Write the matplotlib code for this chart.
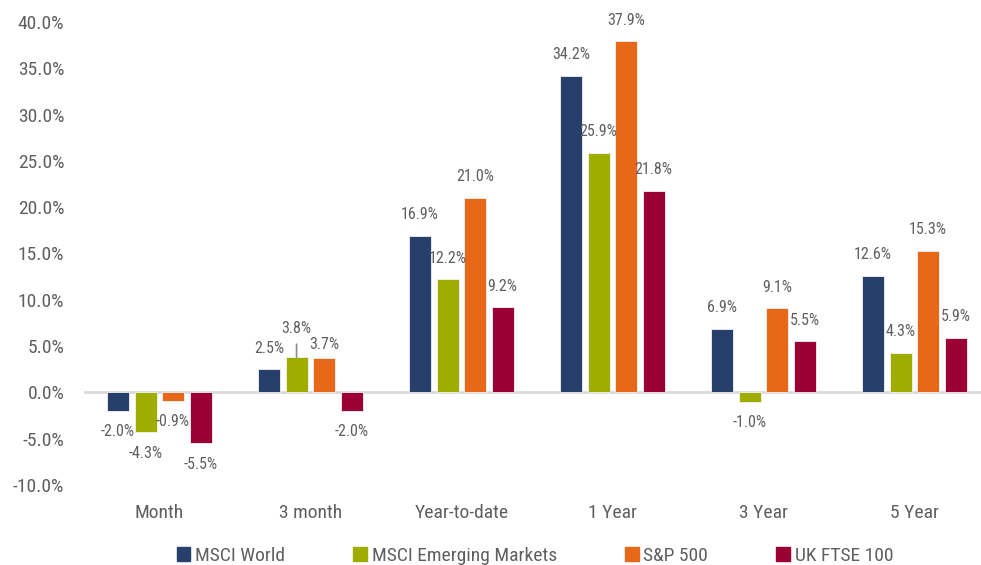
import numpy as np
import matplotlib.pyplot as plt
from matplotlib.patches import Patch

plt.rcParams['font.family'] = ['Liberation Sans Narrow', 'DejaVu Sans Condensed',
                               'Roboto Condensed', 'DejaVu Sans']
plt.rcParams['font.stretch'] = 'condensed'

# data
periods = ['Month', '3 month', 'Year-to-date', '1 Year', '3 Year', '5 Year']
series = ['MSCI World', 'MSCI Emerging Markets', 'S&P 500', 'UK FTSE 100']
msci_world = [-2.0, 2.5, 16.9, 34.2, 6.9, 12.6]
msci_em = [-4.3, 3.8, 12.2, 25.9, -1.0, 4.3]
sp500 = [-0.9, 3.7, 21.0, 37.9, 9.1, 15.3]
ftse100 = [-5.5, -2.0, 9.2, 21.8, 5.5, 5.9]
values = [msci_world, msci_em, sp500, ftse100]

colors = ['#263F6B', '#9FAD00', '#E8681A', '#9B0034']
text_col = '#5f5f5f'

fig = plt.figure(figsize=(9.81, 5.65), dpi=100)
ax = fig.add_axes([83.8 / 981, 80 / 565, 906 / 981, 463 / 565])

x = np.arange(len(periods))
width = 0.146
step = 0.182

# label offsets in pixels (default 21), a few moved by hand in the original
label_off = {(1, 1): 29, (1, 2): 14}

for i, (name, vals) in enumerate(zip(series, values)):
    xs = x + (i - 1.5) * step
    ax.bar(xs, vals, width, color=colors[i], edgecolor='#f2f2f2',
           linewidth=0.6, label=name, zorder=3)
    for j, (xi, v) in enumerate(zip(xs, vals)):
        off = label_off.get((j, i), 21)
        sign = 1 if v >= 0 else -1
        ax.annotate(f'{v:.1f}%', (xi, v), xytext=(0, sign * off),
                    textcoords='offset pixels', ha='center', va='center',
                    fontsize=11.5, color=text_col, zorder=4)
        if (j, i) == (1, 1):
            ax.annotate('', (xi, v), xytext=(0, 13), textcoords='offset pixels',
                        arrowprops=dict(arrowstyle='-', color='#8c8c8c', lw=1.2,
                                        shrinkA=0, shrinkB=0))

ax.axhline(0, color='#d9d9d9', lw=2, zorder=2)

ax.set_ylim(-10, 40)
ax.set_xlim(-0.5, len(periods) - 0.5)
ax.set_yticks(np.arange(-10, 41, 5))
ax.set_yticklabels([f'{t:.1f}%' for t in np.arange(-10, 41, 5)])
ax.set_xticks(x)
ax.set_xticklabels(periods)
ax.tick_params(axis='both', length=0, labelsize=14, labelcolor=text_col)
ax.tick_params(axis='y', pad=14)
ax.tick_params(axis='x', pad=14)
for s in ax.spines.values():
    s.set_visible(False)

handles = [Patch(color=c) for c in colors]
fig.legend(handles, series, loc='center', bbox_to_anchor=(535 / 981, 9 / 565),
           ncol=4, frameon=False, fontsize=14, labelcolor=text_col,
           handlelength=0.7, handleheight=0.7, handletextpad=0.25,
           columnspacing=3.5)

fig.savefig('out.png', dpi=100)
